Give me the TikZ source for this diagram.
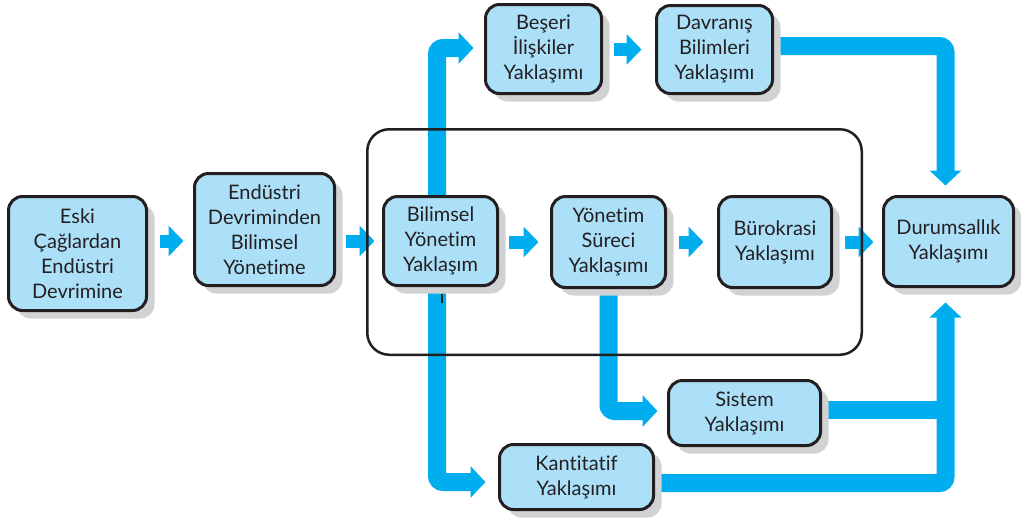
\documentclass[tikz,border=0pt]{standalone}
\usepackage{fontspec}
\setmainfont{Lato}[Ligatures=NoCommon]
\usetikzlibrary{arrows.meta,shadows,backgrounds,calc}
\definecolor{boxfill}{HTML}{ACE0F9}
\definecolor{flow}{HTML}{00AEEF}
\definecolor{ink}{HTML}{231F20}
\definecolor{shade}{HTML}{D1D2D4}
\begin{document}
\begin{tikzpicture}[x=1pt,y=-1pt,
  box/.style={draw=ink, line width=3pt, fill=boxfill, rounded corners=14pt,
    align=center, inner sep=0pt, text=ink,
    font=\fontsize{20}{25}\selectfont,
    drop shadow={shadow xshift=8pt, shadow yshift=-8pt, fill=shade, opacity=1}},
  grpframe/.style={draw=ink, line width=2.5pt, rounded corners=22pt, inner sep=0pt},
  smallarrow/.style={flow, line width=13pt, -{Triangle[width=30pt,length=15pt]}},
  bigarrow/.style={flow, line width=18pt, rounded corners=6pt, -{Triangle[width=31pt,length=15pt]}},
  bigline/.style={flow, line width=18pt},
  tick/.style={ink, line width=1.2pt}]
\useasboundingbox (0,0) rectangle (1021,523);

\node[box, minimum width=138pt, minimum height=114pt] (eski) at (77.5,253.5) {Eski\\Çağlardan\\Endüstri\\Devrimine};
\node[box, minimum width=140pt, minimum height=112pt] (endu) at (264.5,229.5) {Endüstri\\Devriminden\\Bilimsel\\Yönetime};
\node[box, minimum width=114pt, minimum height=89pt] (bil) at (440.5,241) {Bilimsel\\Yönetim\\Yaklaşım};
\node[box, minimum width=114pt, minimum height=91pt] (yon) at (608.5,242) {Yönetim\\Süreci\\Yaklaşımı};
\node[box, minimum width=113pt, minimum height=91pt] (bur) at (775,242) {Bürokrasi\\Yaklaşımı};
\node[box, minimum width=130pt, minimum height=90pt] (dur) at (948.5,241.5) {Durumsallık\\Yaklaşımı};
\node[box, minimum width=116pt, minimum height=89pt] (bes) at (543.5,49) {Beşeri\\İlişkiler\\Yaklaşımı};
\node[box, minimum width=116pt, minimum height=88pt] (dav) at (714.5,49.5) {Davranış\\Bilimleri\\Yaklaşımı};
\node[box, minimum width=152pt, minimum height=65pt] (sis) at (744.5,413) {Sistem\\Yaklaşımı};
\node[box, minimum width=154pt, minimum height=65pt] (kan) at (576.5,477) {Kantitatif\\Yaklaşımı};

\coordinate (jx) at ([xshift=-3pt]dur.south);
\coordinate (sisr) at ([yshift=3pt]sis.east);

\begin{scope}[on background layer]
\draw[smallarrow, shorten <=11.5pt, shorten >=9.5pt] (eski.east |- bil.center) -- (endu.west |- bil.center);
\draw[smallarrow, shorten <=9.5pt, shorten >=7.5pt] (endu.east |- bil.center) -- (bil.west);
\draw[smallarrow, shorten <=9.5pt, shorten >=11.5pt] (bil.east |- yon.center) -- (yon.west);
\draw[smallarrow, shorten <=11.5pt, shorten >=13.5pt] (yon.east) -- (bur.west);
\draw[smallarrow, shorten <=11.5pt, shorten >=8.5pt] (bur.east) -- (bur.east -| dur.west);
\draw[smallarrow, shorten <=10.5pt, shorten >=13.5pt] (bes.east |- dav.center) -- (dav.west);

\draw[bigarrow, shorten >=10.5pt] ([xshift=-3.5pt]bil.north) |- ([yshift=1pt]bes.west);
\draw[bigarrow, shorten >=12.5pt] ([xshift=-3.5pt]bil.south) |- ([yshift=-5pt]kan.west);
\draw[bigarrow, shorten >=9.5pt] (yon.south) |- ([yshift=2pt]sis.west);
\draw[bigarrow, shorten >=9.5pt] ([yshift=3.5pt]dav.east) -| (jx |- dur.north);
\draw[bigline] (sisr) -- (sisr -| jx);
\draw[bigarrow, shorten >=14.5pt] ([yshift=-6pt]kan.east) -| (jx);
\end{scope}

\node[grpframe, minimum width=494.5pt, minimum height=225.5pt] (grp) at (614.5,242) {};
\draw[tick] ([xshift=1.5pt,yshift=-6.5pt]bil.south) -- ++(0,9);
\end{tikzpicture}
\end{document}
